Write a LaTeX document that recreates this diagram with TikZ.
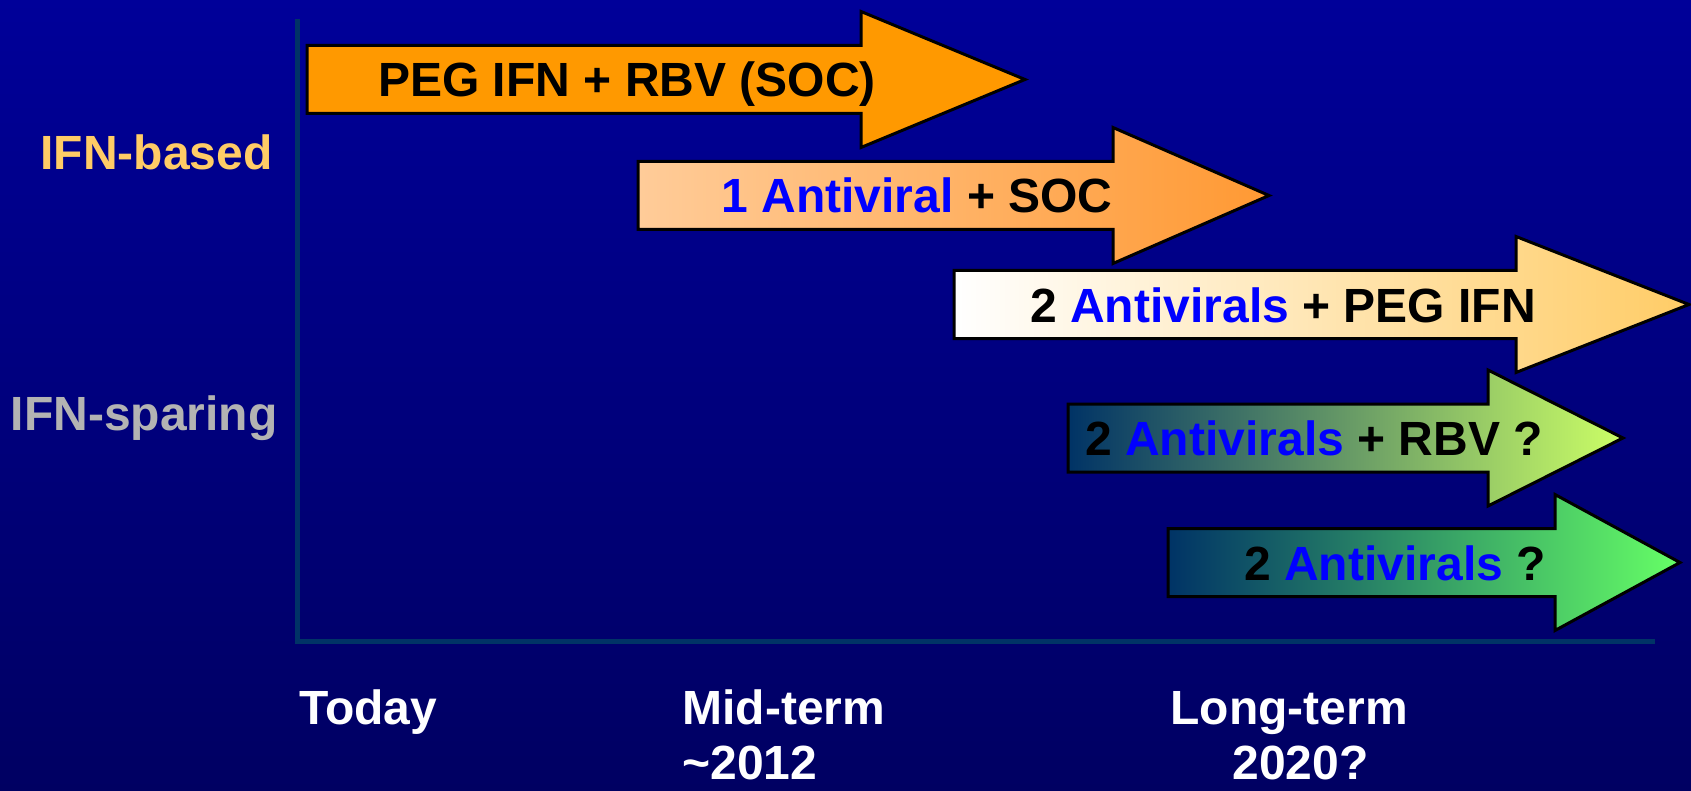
\documentclass[tikz,border=0pt]{standalone}
\usepackage{fontspec}
\setmainfont{Liberation Sans}
\usetikzlibrary{positioning}

\definecolor{Backtop}{RGB}{0,0,153}
\definecolor{Backbottom}{RGB}{0,0,98}
\definecolor{Axisline}{RGB}{0,51,102}
\definecolor{Soc}{RGB}{255,153,0}
\definecolor{Peach}{RGB}{255,204,153}
\definecolor{Pumpkin}{RGB}{255,153,51}
\definecolor{Sand}{RGB}{255,204,102}
\definecolor{Slate}{RGB}{0,51,102}
\definecolor{Lime}{RGB}{204,255,102}
\definecolor{Mint}{RGB}{102,255,102}
\definecolor{Sparing}{RGB}{179,179,179}
\definecolor{Drug}{RGB}{0,0,255}

\newcommand{\drawtrack}[5]{% Parameters: shading, left end, centre line, head base, tip
  \shade[#1,draw=black,line width=1.5pt] (#2,#3-34) -- (#4,#3-34) -- (#4,#3-68)
  -- (#5,#3) -- (#4,#3+68) -- (#4,#3+34) -- (#2,#3+34) -- cycle;
}
\newcommand{\drug}[1]{\textcolor{Drug}{#1}}

\tikzset{
  big/.style={font=\bfseries\fontsize{24}{28}\selectfont,inner sep=0pt},
  tracktext/.style={big,anchor=base,text=black},
  period/.style={big,anchor=base west,text=white},
  kind/.style={big,anchor=base east}
}

\begin{document}
\begin{tikzpicture}[x=0.5pt,y=-0.5pt]
  % background
  \shade[top color=Backtop,bottom color=Backbottom] (0,0) rectangle (1691,791);
  \useasboundingbox (0,0) rectangle (1691,791);
  % axes
  \coordinate (origin) at (297,641);
  \draw[Axisline,line width=2.5pt] (297,19) -- (origin) -- (1655,641);
  % arrows
  \drawtrack{left color=Soc,right color=Soc}{307}{79.5}{861}{1025}
  \drawtrack{left color=Peach,right color=Pumpkin}{638}{195.5}{1113}{1269}
  \drawtrack{left color=white,right color=Sand}{954}{304.5}{1516}{1689}
  \drawtrack{left color=Slate,middle color=Slate!35!Lime,right color=Lime}{1068}{438}{1488}{1623}
  \drawtrack{left color=Slate,middle color=Slate!35!Mint,right color=Mint}{1168}{562.5}{1555}{1680}
  \node[tracktext] (soc) at (627,97) {PEG IFN + RBV (SOC)};
  \node[tracktext] (one) at (917,213) {\drug{1 Antiviral} + SOC};
  \node[tracktext] (peg) at (1283,322) {2 \drug{Antivirals} + PEG IFN};
  \node[tracktext] (rbv) at (1314,455) {2 \drug{Antivirals} + RBV ?};
  \node[tracktext] (two) at (1395,580) {2 \drug{Antivirals} ?};
  % row labels
  \node[kind,text=Sand] (based) at (273,170) {IFN-based};
  \node[kind,text=Sparing] (sparing) at (278,430) {IFN-sparing};
  % time labels
  \node[period] (today) at (299,724) {Today};
  \node[period] (mid) at (682,724) {Mid-term};
  \node[period] (midyear) at (682,779) {\textasciitilde2012};
  \node[period] (long) at (1170,724) {Long-term};
  \node[period] (longyear) at (1232,779) {2020?};
\end{tikzpicture}
\end{document}
